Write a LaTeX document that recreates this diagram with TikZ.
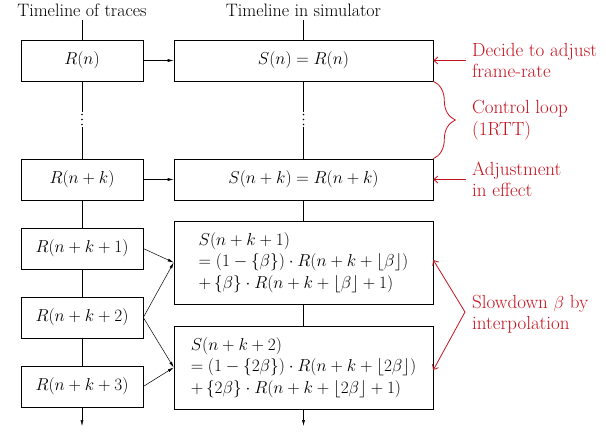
\documentclass[tikz,border=0pt]{standalone}
\usetikzlibrary{arrows.meta,decorations.pathreplacing}
\definecolor{annot}{RGB}{196,18,30}
\begin{document}
\begin{tikzpicture}[x=1pt,y=-1pt,
  font=\fontsize{18}{21.5}\selectfont,
  rbox/.style={draw, line width=0.6pt, minimum width=122pt, minimum height=41pt, inner sep=0pt},
  sbox/.style={draw, line width=0.6pt, minimum width=259pt, minimum height=41pt, inner sep=0pt},
  tbox/.style={sbox, minimum height=83pt, align=left},
  tline/.style={line width=0.6pt},
  flow/.style={line width=0.5pt, -{Latex[length=6pt,width=3pt]}},
  redarrow/.style={annot, line width=0.8pt, -{Straight Barb[length=4pt,width=7pt]}},
  redtext/.style={annot, anchor=west, align=left, inner sep=0pt, font=\fontsize{19}{21.5}\selectfont},
  title/.style={inner sep=0pt},
  dotmark/.style={fill, circle, inner sep=0pt, minimum size=1.6pt}]
\useasboundingbox (0,0) rectangle (605,431);

% titles
\node[title] (T1) at (82,10) {Timeline of traces};
\node[title] (T2) at (303.5,10) {Timeline in simulator};

% left boxes
\node[rbox] (R0) at (82,60.5) {$R(n)$};
\node[rbox] (Rk) at (82,179.5) {$R(n+k)$};
\node[rbox] (R1) at (82,248.5) {$R(n+k+1)$};
\node[rbox] (R2) at (82,317.5) {$R(n+k+2)$};
\node[rbox] (R3) at (82,386.5) {$R(n+k+3)$};

% right boxes
\node[sbox] (S0) at (303.5,60.5) {$S(n)=R(n)$};
\node[sbox] (Sk) at (303.5,179.5) {$S(n+k)=R(n+k)$};
\node[tbox] (S1) at (303.5,262.5) {$S(n+k+1)$\\$=(1-\{\beta\})\cdot R(n+k+\lfloor\beta\rfloor)$\\$+\,\{\beta\}\cdot R(n+k+\lfloor\beta\rfloor+1)$};
\node[tbox] (S2) at (303.5,367.5) {$S(n+k+2)$\\$=(1-\{2\beta\})\cdot R(n+k+\lfloor2\beta\rfloor)$\\$+\,\{2\beta\}\cdot R(n+k+\lfloor2\beta\rfloor+1)$};

% left timeline
\coordinate (Lend) at (82,426);
\coordinate (La) at (82,112);
\coordinate (Lb) at (82,127);
\draw[tline] (82,20) -- (R0.north);
\draw[tline] (R0.south) -- (La);
\draw[tline] (Lb) -- (Rk.north);
\node[dotmark] (Ld1) at (82,114.5) {};
\node[dotmark] (Ld2) at (82,119.5) {};
\node[dotmark] (Ld3) at (82,124.5) {};
\draw[tline] (Rk) -- (R1);
\draw[tline] (R1) -- (R2);
\draw[tline] (R2) -- (R3);
\draw[flow] (R3.south) -- (Lend);

% right timeline
\coordinate (Rend) at (303.5,426);
\coordinate (Ra) at (303.5,112);
\coordinate (Rb) at (303.5,127);
\draw[tline] (303.5,20) -- (S0.north);
\draw[tline] (S0.south) -- (Ra);
\draw[tline] (Rb) -- (Sk.north);
\node[dotmark] (Rd1) at (303.5,114.5) {};
\node[dotmark] (Rd2) at (303.5,119.5) {};
\node[dotmark] (Rd3) at (303.5,124.5) {};
\draw[tline] (Sk) -- (S1);
\draw[tline] (S1) -- (S2);
\draw[flow] (S2.south) -- (Rend);

% flows
\draw[flow] (R0) -- (S0);
\draw[flow] (Rk) -- (Sk);
\draw[flow] (R1.east) -- (S1.west);
\draw[flow] (R2.east) -- (S1.west);
\draw[flow] (R2.east) -- (S2.west);
\draw[flow] (R3.east) -- (S2.west);

% annotations
\coordinate (A0) at (466,60.5);
\coordinate (Ak) at (466,179.5);
\coordinate (AS) at (465,312);
\draw[redarrow] (A0) -- (S0.east);
\draw[redarrow] (Ak) -- (Sk.east);
\draw[redarrow] (AS) -- ([yshift=2.5pt]S1.east);
\draw[redarrow] (AS) -- ([yshift=-2.5pt]S2.east);
\draw[annot, line width=0.8pt, decorate, decoration={brace, amplitude=22pt}] (S0.south east) -- (Sk.north east);

\node[redtext] (D0) at (472,60.5) {Decide to adjust\\frame-rate};
\node[redtext] (D1) at (472,120) {Control loop\\(1RTT)};
\node[redtext] (D2) at (472,179.5) {Adjustment\\in effect};
\node[redtext] (D3) at (472,314) {Slowdown $\beta$ by\\interpolation};
\end{tikzpicture}
\end{document}
